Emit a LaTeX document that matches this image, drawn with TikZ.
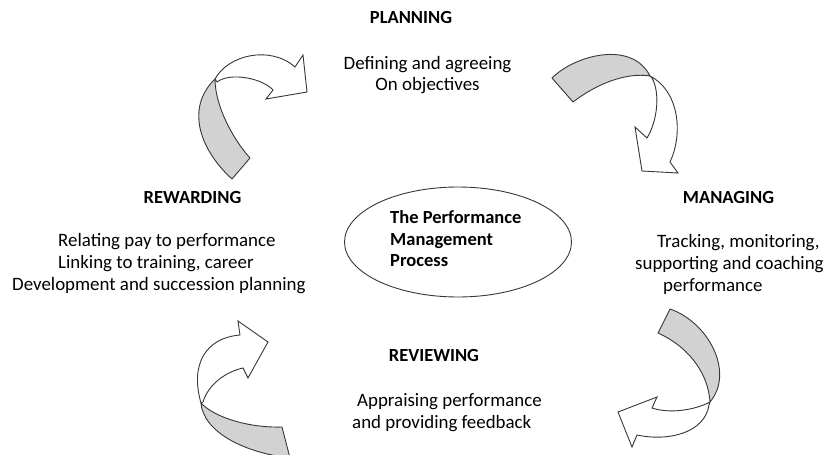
\documentclass[tikz,border=0pt]{standalone}
\usepackage{fontspec}
\setmainfont{Carlito}
\usetikzlibrary{shapes.geometric}
\definecolor{linec}{RGB}{55,55,55}
\definecolor{bandgray}{RGB}{210,210,210}
\begin{document}
\begin{tikzpicture}[x=1pt,y=-1pt,
  txt/.style={inner sep=0pt, font=\fontsize{18.9}{22}\selectfont, text=black},
  boldtxt/.style={inner sep=0pt, font=\fontsize{18.5}{22}\selectfont\bfseries, text=black},
  hdr/.style={boldtxt, anchor=mid},
  band/.style={draw=linec, fill=bandgray, line width=0.9pt, line join=round},
  whitearrow/.style={draw=linec, fill=white, line width=0.9pt, line join=miter}]
\useasboundingbox (0,0) rectangle (823,455);
\fill[white] (0,0) rectangle (823,455);

% ---------- top-left arrow (Rewarding -> Planning)
\draw[whitearrow] (215,79) .. controls (228,55) and (270,45) .. (295,67)
  -- (303,55) -- (307,92) -- (266,99) -- (273,90)
  .. controls (262,78) and (230,72) .. (217,82) -- cycle;
\draw[band] (232,179) .. controls (200,150) and (185,108) .. (215,79)
  .. controls (215,105) and (232,138) .. (250,158) -- cycle;

% ---------- top-right arrow (Planning -> Managing)
\draw[band] (552,78) .. controls (575,55) and (632,40) .. (650,76)
  .. controls (625,72) and (595,85) .. (573,102) -- cycle;
\draw[whitearrow] (650,76) .. controls (678,90) and (684,132) .. (670,162)
  -- (678,173) -- (642,171) -- (635,127) -- (647,138)
  .. controls (658,120) and (660,92) .. (652,78) -- cycle;

% ---------- bottom-right arrow (Managing -> Reviewing)
\draw[band] (670,309) .. controls (708,322) and (735,372) .. (710,402)
  .. controls (708,370) and (685,345) .. (658,333) -- cycle;
\draw[whitearrow] (710,402) .. controls (695,410) and (670,414) .. (652,408)
  -- (657,397) -- (618,412) -- (632,447) -- (637,435)
  .. controls (670,442) and (705,432) .. (709,405) -- cycle;

% ---------- bottom-left arrow (Reviewing -> Rewarding)
\draw[band] (282,427) .. controls (250,428) and (215,418) .. (201,403)
  .. controls (203,430) and (240,452) .. (290,458) -- cycle;
\draw[whitearrow] (201,403) .. controls (190,365) and (205,338) .. (240,335)
  -- (238,321) -- (268,342) -- (248,378) -- (243,368)
  .. controls (225,372) and (208,385) .. (203,402) -- cycle;

% ---------- centre ellipse
\node[draw=linec, line width=0.9pt, ellipse, minimum width=227pt, minimum height=110pt, inner sep=0pt] (core) at (458,242) {};
\node[boldtxt, anchor=mid west] (coretxt1) at (390,221) {The Performance};
\node[boldtxt, anchor=mid west] (coretxt2) at (390,243) {Management};
\node[boldtxt, anchor=mid west] (coretxt3) at (390,264) {Process};

% ---------- stage labels
\node[hdr] (plan) at (411,21) {PLANNING};
\node[txt, anchor=mid] (plan1) at (427.5,67) {Defining and agreeing};
\node[txt, anchor=mid] (plan2) at (427.5,88) {On objectives};

\node[hdr] (manage) at (728.5,201) {MANAGING};
\node[txt, anchor=mid west] (man1) at (657,245) {Tracking, monitoring,};
\node[txt, anchor=mid west] (man2) at (635,267) {supporting and coaching};
\node[txt, anchor=mid west] (man3) at (663,289) {performance};

\node[hdr] (review) at (434,359) {REVIEWING};
\node[txt, anchor=mid west] (rev1) at (357,404) {Appraising performance};
\node[txt, anchor=mid west] (rev2) at (352,426) {and providing feedback};

\node[hdr] (reward) at (192.5,201) {REWARDING};
\node[txt, anchor=mid west] (rew1) at (58,244) {Relating pay to performance};
\node[txt, anchor=mid west] (rew2) at (58,266) {Linking to training, career};
\node[txt, anchor=mid west] (rew3) at (12,288) {Development and succession planning};
\end{tikzpicture}
\end{document}
